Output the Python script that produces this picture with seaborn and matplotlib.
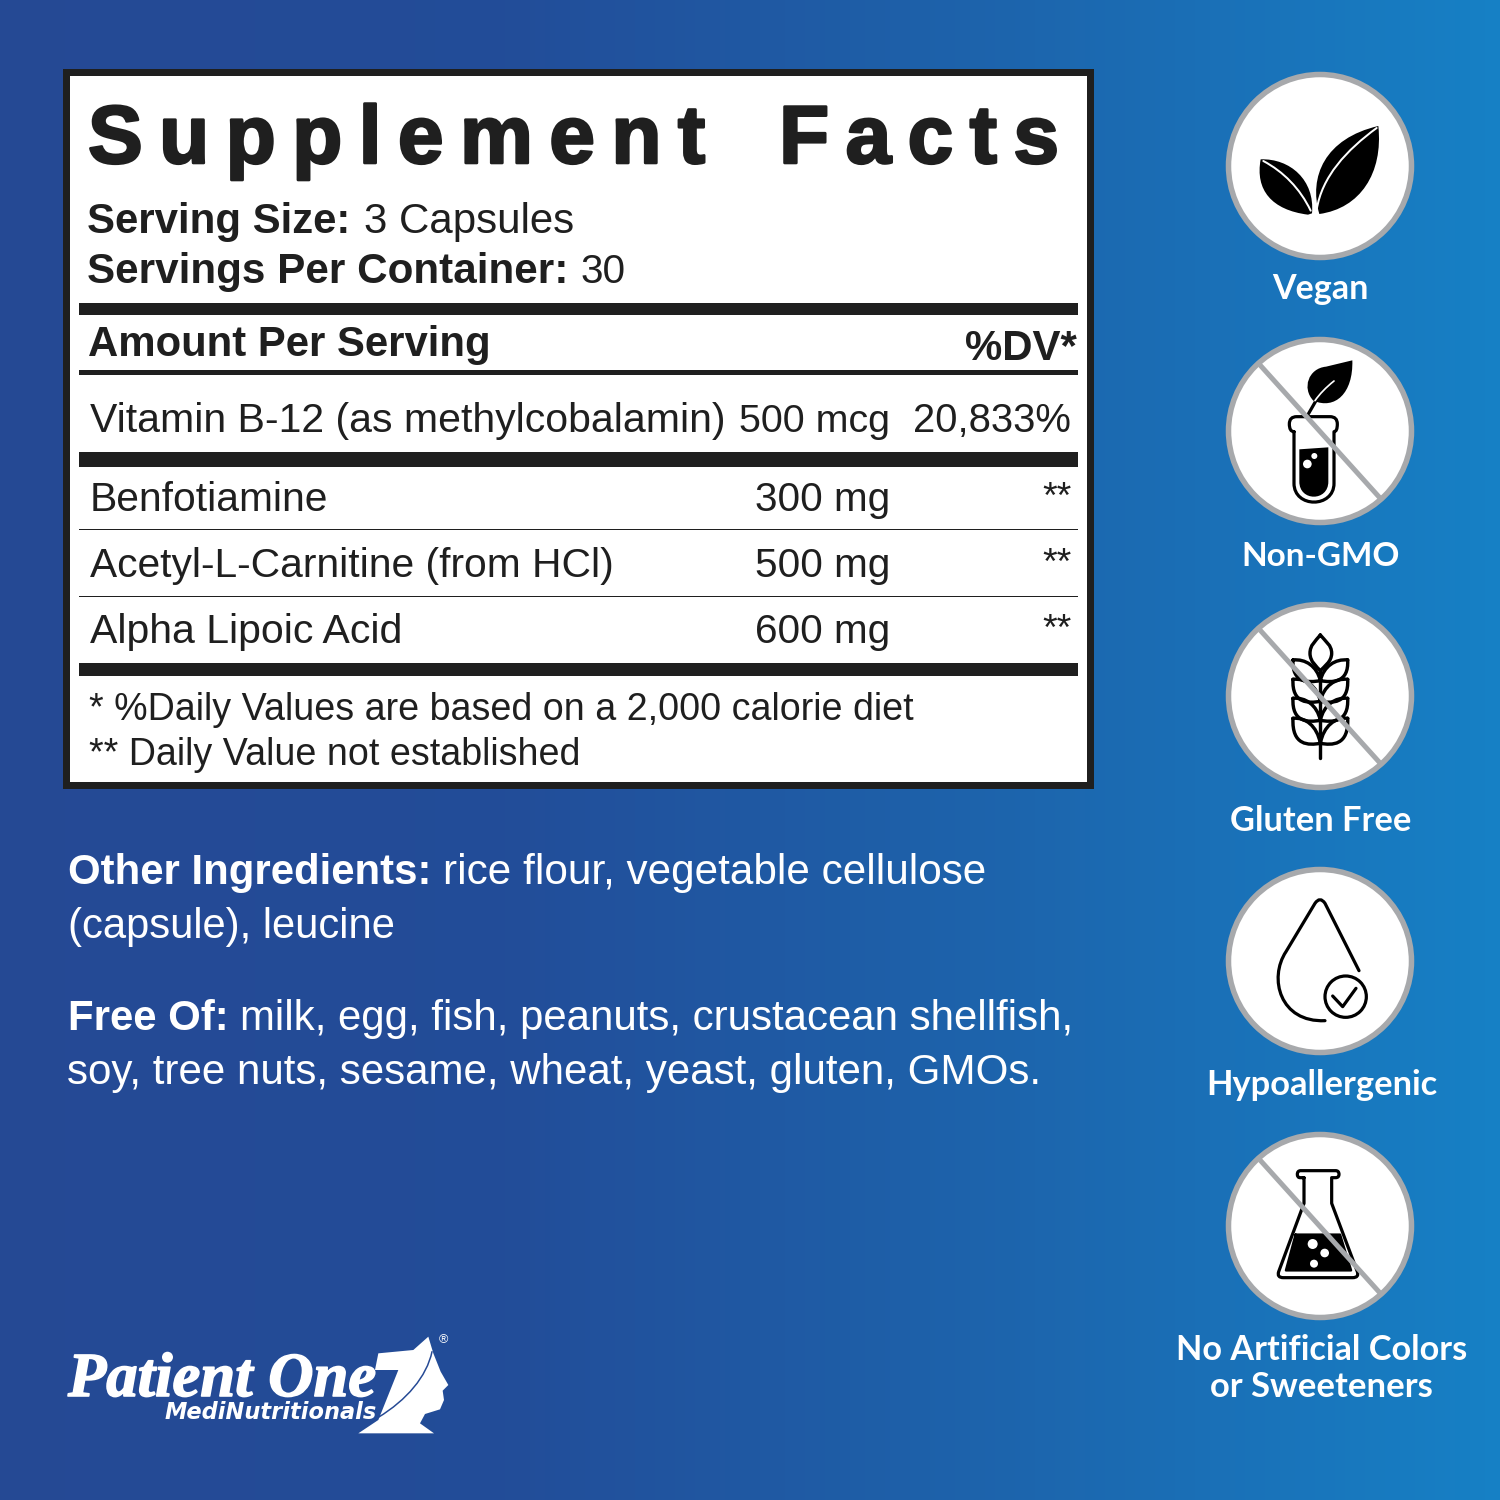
import numpy as np
import matplotlib
matplotlib.use('Agg')
import matplotlib.pyplot as plt
import matplotlib.patheffects as pe
import seaborn as sns
from matplotlib.colors import LinearSegmentedColormap
from matplotlib.patches import Circle, PathPatch, Rectangle
from matplotlib.path import Path

sns.set_theme(style='white')
plt.rcParams['font.family'] = ['Liberation Sans', 'DejaVu Sans']

# label content
title = 'Supplement Facts'
serving_labels = ['Serving Size:', 'Servings Per Container:']
serving_values = ['3 Capsules', '30']
header_left = 'Amount Per Serving'
header_right = '%DV*'
vitamin = ['Vitamin B-12 (as methylcobalamin)', '500 mcg', '20,833%']
row_names = ['Benfotiamine', 'Acetyl-L-Carnitine (from HCl)', 'Alpha Lipoic Acid']
row_amounts = ['300 mg', '500 mg', '600 mg']
row_dv = ['**', '**', '**']
footnotes = ['* %Daily Values are based on a 2,000 calorie diet', '** Daily Value not established']
badges = ['Vegan', 'Non-GMO', 'Gluten Free', 'Hypoallergenic', 'No Artificial Colors', 'or Sweeteners']

INK = '#1f1f1f'
RING = '#a7a9ac'

fig = plt.figure(figsize=(10, 10), dpi=150)

# background gradient goes in its own axes, under everything
bg = fig.add_axes([0, 0, 1, 1])
cmap = LinearSegmentedColormap.from_list('bg', [(0, '#254994'), (0.33, '#224c98'), (0.7, '#1c66ae'), (1, '#1680c5')])
sns.heatmap(np.linspace(0, 1, 300).reshape(1, -1), ax=bg, cmap=cmap, cbar=False, vmin=0, vmax=1,
            xticklabels=False, yticklabels=False)

ax = fig.add_axes([0, 0, 1, 1])
ax.set_xlim(0, 1500)
ax.set_ylim(1500, 0)
ax.axis('off')
ax.patch.set_alpha(0)
renderer = fig.canvas.get_renderer()


def put(x0, x1, y, s, color=INK, **kw):
    # fit the string between two pixel columns, y is the baseline
    t = ax.text(x0, y, s, color=color, fontsize=20, va='baseline', ha='left', **kw)
    w = t.get_window_extent(renderer).width
    t.set_fontsize(20 * (x1 - x0) / w)
    return t


def rule(y0, y1, x0=79, x1=1078):
    ax.add_patch(Rectangle((x0, y0), x1 - x0, y1 - y0, fc=INK, ec='none', zorder=3))


def shape(cmds, x0, y0, fc='none', ec='black', lw=3.2, z=5):
    # commands are in zoomed crop units (3x), x0/y0 is the crop origin
    verts, codes = [], []
    for c in cmds:
        kind, pts = c[0], c[1:]
        code = {'M': Path.MOVETO, 'L': Path.LINETO, 'Q': Path.CURVE3, 'C': Path.CURVE4}[kind]
        for p in pts:
            verts.append((x0 + p[0] / 3, y0 + p[1] / 3))
            codes.append(code)
    ax.add_patch(PathPatch(Path(verts, codes), fc=fc, ec=ec, lw=lw * 72 / 150, zorder=z,
                           capstyle='round', joinstyle='round'))


def dot(x, y, r, x0, y0, fc='white', ec='none', lw=0, z=6):
    ax.add_patch(Circle((x0 + x / 3, y0 + y / 3), r / 3, fc=fc, ec=ec, lw=lw * 72 / 150, zorder=z))


# facts panel
ax.add_patch(Rectangle((66, 71.5), 1023.5, 713, fc='white', ec=INK, lw=7 * 72 / 150, zorder=2))

spaced = '\u2009'.join(title.replace(' ', '\u2002'))
t = put(88, 1060, 163, spaced, weight='bold', zorder=4)
t.set_path_effects([pe.withStroke(linewidth=2.6 * 72 / 150, foreground=INK)])

put(87, 351, 233, serving_labels[0], weight='bold', zorder=4)
put(364, 574, 233, serving_values[0], zorder=4)
put(87, 568, 283, serving_labels[1], weight='bold', zorder=4)
put(580, 625, 283, serving_values[1], zorder=4)

rule(303, 315)
put(88, 491, 356, header_left, weight='bold', zorder=4)
put(965, 1077, 360, header_right, weight='bold', zorder=4)
rule(370, 375)

put(90, 723, 432, vitamin[0], zorder=4)
put(739, 890, 432, vitamin[1], zorder=4)
put(913, 1071, 432, vitamin[2], zorder=4)
rule(452, 467)

row_y = [511, 577, 643]
name_ends = [327, 613, 402]
for i in range(3):
    put(90, name_ends[i], row_y[i], row_names[i], zorder=4)
    put(755, 890, row_y[i], row_amounts[i], zorder=4)
    put(1042, 1071, row_y[i] - 3, row_dv[i], zorder=4)
rule(528.5, 530)
rule(595.5, 597)
rule(663, 676)

put(89, 911, 720, footnotes[0], zorder=4)
put(89, 579, 765, footnotes[1], zorder=4)

# paragraphs under the panel
put(68, 431, 884, 'Other Ingredients:', color='white', weight='bold')
put(443, 984, 884, 'rice flour, vegetable cellulose', color='white')
put(68, 395, 938, '(capsule), leucine', color='white')
put(68, 229, 1030, 'Free Of:', color='white', weight='bold')
put(240, 1073, 1030, 'milk, egg, fish, peanuts, crustacean shellfish,', color='white')
put(67, 1042, 1084, 'soy, tree nuts, sesame, wheat, yeast, gluten, GMOs.', color='white')

# badge circles
centers = [166, 431, 696, 961, 1226]
slashed = [False, True, True, False, True]
for cy, s in zip(centers, slashed):
    ax.add_patch(Circle((1320, cy), 91.5, fc='white', ec=RING, lw=5.5 * 72 / 150, zorder=4))
    if s:
        ax.plot([1260, 1380], [cy - 66, cy + 67], color=RING, lw=5 * 72 / 150, zorder=8, solid_capstyle='butt')

badge_x = [(1272, 1368), (1241, 1400), (1230, 1411), (1206, 1437), (1176, 1467), (1210, 1432)]
badge_y = [299, 566, 831, 1095, 1360, 1397]
for s, (a, b), y in zip(badges, badge_x, badge_y):
    put(a, b, y, s, color='white', family='Lato', weight='bold')

# vegan leaves
ox, oy = 1200, 60
shape([('M', (358, 462)), ('C', (325, 350), (375, 235), (535, 198)),
       ('C', (550, 340), (480, 445), (358, 462))], ox, oy, fc='black', ec='none')
shape([('M', (350, 450)), ('C', (365, 350), (440, 270), (530, 204))], ox, oy, ec='white', lw=2)
shape([('M', (324, 464)), ('C', (215, 450), (165, 390), (182, 298)),
       ('C', (270, 295), (345, 360), (336, 460))], ox, oy, fc='black', ec='none')
shape([('M', (190, 303)), ('C', (250, 335), (300, 385), (332, 452))], ox, oy, ec='white', lw=2)

# test tube
shape([('M', (457, 901)), ('C', (460, 1000), (405, 1050), (340, 1022)),
       ('C', (305, 985), (325, 925), (378, 920)), ('L', (457, 901))], ox, oy, fc='black', ec='none')
shape([('M', (325, 1062)), ('L', (348, 1022))], ox, oy)
shape([('M', (345, 1022)), ('C', (358, 1003), (378, 982), (402, 963))], ox, oy, ec='white', lw=1.7)
shape([('M', (282, 1115)), ('Q', (268, 1115), (268, 1092)), ('Q', (268, 1070), (290, 1070)),
       ('L', (390, 1070)), ('Q', (412, 1070), (412, 1092)), ('Q', (412, 1115), (402, 1115)),
       ('L', (402, 1270)), ('C', (402, 1345), (282, 1345), (282, 1270)), ('L', (282, 1115))], ox, oy)
shape([('M', (298, 1168)), ('L', (385, 1162)), ('L', (385, 1265)),
       ('C', (385, 1325), (298, 1325), (298, 1265)), ('L', (298, 1168))], ox, oy, fc='black', ec='none')
dot(322, 1212, 13, ox, oy)
dot(343, 1188, 9, ox, oy)

# wheat
ox, oy = 1200, 600
shape([('M', (361, 105)), ('C', (345, 125), (330, 135), (330, 160)),
       ('C', (330, 185), (350, 200), (361, 212)), ('C', (372, 200), (395, 185), (395, 160)),
       ('C', (395, 135), (377, 125), (361, 105))], ox, oy, lw=3.4)
shape([('M', (361, 212)), ('L', (361, 475))], ox, oy, lw=3.4)
for yt, drop in zip([180, 238, 295, 355], [62, 66, 66, 75]):
    for m in [-1, 1]:
        xf = lambda dx: 361 + m * dx
        shape([('M', (xf(82), yt)), ('C', (xf(45), yt - 4), (xf(10), yt + drop * 0.3), (xf(0), yt + drop)),
               ('C', (xf(35), yt + drop + 6), (xf(86), yt + drop + 8), (xf(82), yt))], ox, oy, lw=3.4)

# drop with check mark
shape([('M', (477, 1112)), ('L', (375, 910)), ('Q', (360, 888), (345, 910)), ('L', (258, 1055)),
       ('C', (205, 1135), (240, 1268), (375, 1262))], ox, oy)
dot(437, 1190, 62, ox, oy, fc='none', ec='black', lw=3.2)
shape([('M', (398, 1188)), ('L', (428, 1220)), ('L', (468, 1165))], ox, oy)

# flask
ox, oy = 1200, 1125
shape([('M', (312, 158)), ('L', (300, 158)), ('Q', (292, 158), (292, 148)), ('Q', (292, 137), (302, 137)),
       ('L', (407, 137)), ('Q', (417, 137), (417, 148)), ('Q', (417, 158), (407, 158)), ('L', (395, 158)),
       ('L', (395, 235)), ('L', (472, 440)), ('Q', (478, 458), (458, 458)), ('L', (250, 458)),
       ('Q', (230, 458), (236, 440)), ('L', (312, 235)), ('L', (312, 158))], ox, oy)
shape([('M', (287, 329)), ('L', (420, 329)), ('L', (453, 436)), ('L', (258, 436)), ('L', (287, 329))],
      ox, oy, fc='black', ec='black', lw=2.5)
dot(338, 357, 15, ox, oy)
dot(374, 384, 13, ox, oy)
dot(342, 416, 12, ox, oy)

# logo
ox, oy = 50, 1320
t = put(68, 376, 1396, 'Patient One', color='white', family='Liberation Serif', weight='bold', style='italic')
t.set_path_effects([pe.withStroke(linewidth=1.6 * 72 / 150, foreground='white')])
put(165, 377, 1419, 'MediNutritionals', color='white', family='DejaVu Sans', weight='bold', style='italic')
shape([('M', (985, 100)), ('L', (1090, 90)), ('L', (1135, 50)), ('L', (1150, 100)), ('L', (1172, 155)),
       ('L', (1195, 195)), ('L', (1178, 212)), ('L', (1182, 240)), ('L', (1170, 268)), ('L', (1125, 282)),
       ('L', (1110, 310)), ('L', (1152, 340)), ('L', (925, 340)), ('L', (985, 300)), ('L', (1045, 150)),
       ('L', (975, 150)), ('L', (985, 100))], ox, oy, fc='white', ec='none')
shape([('M', (985, 292)), ('C', (1070, 240), (1130, 170), (1146, 95))], ox, oy, ec='#254994', lw=1.5)
ax.text(443, 1340, '\u00ae', color='white', fontsize=6, ha='center', va='center')

fig.savefig('out.png', dpi=150)
